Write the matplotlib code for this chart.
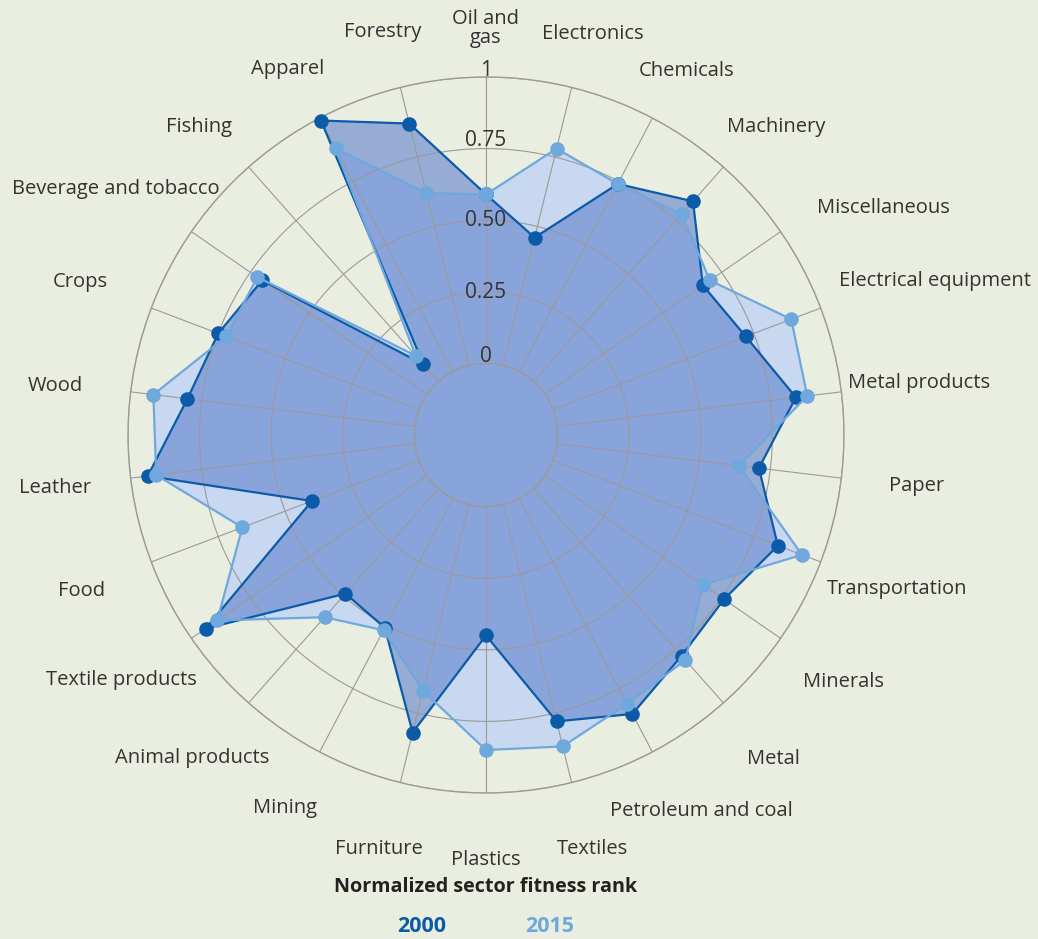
import numpy as np
import matplotlib
matplotlib.use("Agg")
import matplotlib.pyplot as plt
from matplotlib import transforms

# sectors, clockwise from the top
sectors = ["Oil and\ngas", "Electronics", "Chemicals", "Machinery", "Miscellaneous",
           "Electrical equipment", "Metal products", "Paper", "Transportation",
           "Minerals", "Metal", "Petroleum and coal", "Textiles", "Plastics",
           "Furniture", "Mining", "Animal products", "Textile products", "Food",
           "Leather", "Wood", "Crops", "Beverage and tobacco", "Fishing",
           "Apparel", "Forestry"]
rank_2000 = [0.59, 0.46, 0.74, 0.84, 0.67, 0.72, 0.84, 0.71, 0.84, 0.76, 0.78, 0.85, 0.78,
             0.45, 0.82, 0.51, 0.49, 0.94, 0.40, 0.94, 0.80, 0.75, 0.70, 0.08, 0.99, 0.87]
rank_2015 = [0.59, 0.78, 0.74, 0.78, 0.70, 0.89, 0.88, 0.64, 0.93, 0.67, 0.80, 0.81, 0.87,
             0.85, 0.67, 0.52, 0.60, 0.89, 0.66, 0.91, 0.92, 0.72, 0.72, 0.12, 0.88, 0.62]
r_ticks = [0, 0.25, 0.5, 0.75, 1]
r_ticklabels = ["0", "0.25", "0.50", "0.75", "1"]

bg = "#EAEEE0"
c2000 = "#0B5BA9"
c2015 = "#6FA8DC"
fill2015 = "#C8D8F0"
fill2000 = "#5F80CD"
grid_c = "#9A9A9A"
text_c = "#333333"
plt.rcParams["font.family"] = ["Open Sans", "DejaVu Sans"]

n = len(sectors)
theta = np.arange(n) * 2 * np.pi / n
th = np.append(theta, theta[0])
v00 = np.append(rank_2000, rank_2000[0])
v15 = np.append(rank_2015, rank_2015[0])

fig = plt.figure(figsize=(10.38, 9.39), dpi=100, facecolor=bg)
ax = fig.add_axes([0.1233, 0.1555, 0.6898, 0.7625], projection="polar")
ax.set_facecolor(bg)
ax.set_theta_zero_location("N")
ax.set_theta_direction(-1)
ax.set_ylim(0, 1)
ax.set_rorigin(-0.25)
ax.set_xticks(theta)
ax.set_xticklabels([])
ax.set_yticks(r_ticks)
ax.set_yticklabels([])
ax.tick_params(length=0)
ax.grid(color=grid_c, linewidth=0.8)
ax.set_axisbelow("line")
for s in ax.spines.values():
    s.set_color(grid_c)
    s.set_linewidth(1.0)

# filled areas (cover the centre hole too)
ax.fill(th, v15, color=fill2015, lw=0, zorder=1, clip_on=False)
ax.fill(th, v00, color=fill2000, alpha=0.6, lw=0, zorder=1.1, clip_on=False)
ax.plot(th, v00, color=c2000, lw=1.6, marker="o", ms=10.5, mec="none", zorder=3, clip_on=False)
ax.plot(th, v15, color=c2015, lw=1.6, marker="o", ms=10.5, mec="none", zorder=4, clip_on=False)

# sector labels: radius along the spoke, plus a few hand nudges (pixels, right/down)
extra = {"Oil and\ngas": -0.05, "Miscellaneous": 0.10, "Electrical equipment": 0.15,
         "Beverage and tobacco": 0.06, "Textile products": 0.03, "Animal products": 0.03,
         "Petroleum and coal": 0.03}
nudge = {"Oil and\ngas": (0, -5), "Forestry": (-3, 2), "Electronics": (6, 4),
         "Apparel": (-2, 5), "Chemicals": (4, 7), "Fishing": (-5, 8), "Machinery": (8, 8),
         "Beverage and tobacco": (-3, 5), "Miscellaneous": (21, 30),
         "Electrical equipment": (5, 11), "Crops": (-2, -3), "Metal products": (3, -3),
         "Leather": (0, -2), "Paper": (0, -4), "Transportation": (7, -2),
         "Textile products": (-4, -7), "Minerals": (4, 0), "Animal products": (-6, -5),
         "Metal": (5, 2), "Mining": (-5, -4), "Petroleum and coal": (15, -8),
         "Furniture": (-7, 3), "Textiles": (6, 3), "Plastics": (0, 3)}
for t, name in zip(theta, sectors):
    r = 1.213 + 0.052 * np.sin(t) ** 2 + extra.get(name, 0)
    dx, dy = nudge.get(name, (0, 0))
    tr = transforms.offset_copy(ax.transData, fig=fig, x=dx, y=-3 - dy, units="dots")
    ax.text(t, r, name, transform=tr, ha="center", va="center", fontsize=14.5,
            color=text_c, linespacing=0.95, clip_on=False)

# radial tick labels along the top spoke
tick_up = [9, 1, 2, 10, 8]
for v, s, up in zip(r_ticks, r_ticklabels, tick_up):
    tr = transforms.offset_copy(ax.transData, fig=fig, y=up - 2, units="dots")
    ax.text(0, v, s, transform=tr, ha="center", va="center", fontsize=15,
            color=text_c, zorder=6)

fig.text(0.468, 0.0554, "Normalized sector fitness rank", ha="center", va="center",
         fontsize=14.2, weight="bold", color="#222222")
fig.text(0.4066, 0.0128, "2000", ha="center", va="center", fontsize=15.5,
         weight="bold", color=c2000)
fig.text(0.53, 0.0128, "2015", ha="center", va="center", fontsize=15.5,
         weight="bold", color=c2015)

fig.savefig("out.png", dpi=100, facecolor=bg)
